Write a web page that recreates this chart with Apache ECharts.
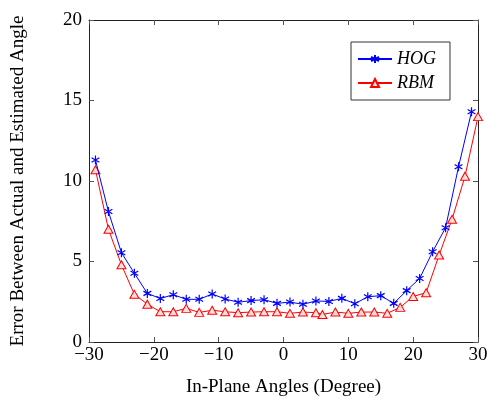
<!DOCTYPE html>
<html>
<head>
<meta charset="utf-8">
<script src="https://cdn.jsdelivr.net/npm/echarts@6/dist/echarts.min.js"></script>
<style>html,body{margin:0;padding:0;background:#fff}#c{width:490px;height:396px}</style>
</head>
<body>
<div id="c"></div>
<script>
var hogX = [-29,-27,-25,-23,-21,-19,-17,-15,-13,-11,-9,-7,-5,-3,-1,1,3,5,7,9,11,13,15,17,19,21,23,25,27,29];
var hogY = [11.3,8.1,5.55,4.27,3.02,2.70,2.94,2.65,2.65,2.98,2.67,2.47,2.57,2.63,2.40,2.48,2.34,2.55,2.52,2.71,2.38,2.81,2.88,2.40,3.19,3.95,5.61,7.1,10.89,14.3];
var rbmX = [-29,-27,-25,-23,-21,-19,-17,-15,-13,-11,-9,-7,-5,-3,-1,1,3,5,6,8,10,12,14,16,18,20,22,24,26,28,30];
var rbmY = [10.7,7.0,4.8,2.96,2.35,1.88,1.88,2.09,1.84,1.97,1.88,1.82,1.86,1.88,1.88,1.78,1.86,1.82,1.71,1.86,1.78,1.86,1.86,1.78,2.15,2.83,3.06,5.4,7.62,10.3,14.0];
var seriesNames = ['HOG', 'RBM'];
var xTicks = [-30, -20, -10, 0, 10, 20, 30];
var yTicks = [0, 5, 10, 15, 20];

function pairs(xs, ys) { return xs.map(function (x, i) { return [x, ys[i]]; }); }

var FONT = 'Liberation Serif';
var axisLineStyle = { color: '#222', width: 1 };
var tick = { show: true, inside: true, length: 5, lineStyle: { color: '#555', width: 1 } };

var chart = echarts.init(document.getElementById('c'), null, { renderer: 'canvas' });
chart.setOption({
  animation: false,
  backgroundColor: '#fff',
  grid: { left: 89, right: 12, top: 20, bottom: 54, containLabel: false, outerBoundsMode: 'none' },
  legend: {
    orient: 'vertical',
    left: 351, top: 42,
    data: seriesNames,
    itemWidth: 34, itemHeight: 10, itemGap: 6,
    padding: [8, 14, 8, 6],
    borderColor: '#333', borderWidth: 1, borderRadius: 0,
    backgroundColor: '#fff',
    textStyle: { fontFamily: FONT, fontStyle: 'italic', fontSize: 18, color: '#000' }
  },
  xAxis: [{
    type: 'value', min: xTicks[0], max: xTicks[xTicks.length - 1], interval: 10,
    position: 'bottom',
    name: 'In-Plane Angles (Degree)', nameLocation: 'middle', nameGap: 36,
    nameTextStyle: { fontFamily: FONT, fontSize: 19, color: '#000' },
    axisLine: { show: true, onZero: false, lineStyle: axisLineStyle },
    axisTick: tick,
    splitLine: { show: false },
    axisLabel: { fontFamily: FONT, fontSize: 19, color: '#000', margin: 4,
      formatter: function (v) { return String(v).replace('-', '\u2212'); } }
  }, {
    type: 'value', min: xTicks[0], max: xTicks[xTicks.length - 1], interval: 10,
    position: 'top',
    axisLine: { show: true, onZero: false, lineStyle: axisLineStyle },
    axisTick: tick, axisLabel: { show: false }, splitLine: { show: false }
  }],
  yAxis: [{
    type: 'value', min: yTicks[0], max: yTicks[yTicks.length - 1], interval: 5,
    position: 'left',
    name: 'Error Between Actual and Estimated Angle', nameLocation: 'middle', nameGap: 61,
    nameTextStyle: { fontFamily: FONT, fontSize: 19, color: '#000' },
    axisLine: { show: true, onZero: false, lineStyle: axisLineStyle },
    axisTick: tick,
    splitLine: { show: false },
    axisLabel: { fontFamily: FONT, fontSize: 19, color: '#000', margin: 7 }
  }, {
    type: 'value', min: yTicks[0], max: yTicks[yTicks.length - 1], interval: 5,
    position: 'right',
    axisLine: { show: true, onZero: false, lineStyle: axisLineStyle },
    axisTick: tick, axisLabel: { show: false }, splitLine: { show: false }
  }],
  series: [{
    name: seriesNames[0], type: 'line', xAxisIndex: 0, yAxisIndex: 0,
    data: pairs(hogX, hogY),
    symbol: 'path://M0,-5L0,5M-4.33,-2.5L4.33,2.5M-4.33,2.5L4.33,-2.5',
    symbolSize: 9, symbolKeepAspect: true,
    lineStyle: { color: '#0000ff', width: 1 },
    itemStyle: { color: '#0000ff', borderColor: '#0000ff', borderWidth: 1.2 },
    z: 3
  }, {
    name: seriesNames[1], type: 'line', xAxisIndex: 0, yAxisIndex: 0,
    data: pairs(rbmX, rbmY),
    symbol: 'triangle', symbolSize: [9, 8],
    lineStyle: { color: '#ff0000', width: 1 },
    itemStyle: { color: '#ffdede', borderColor: '#ff0000', borderWidth: 1 },
    z: 2
  }]
});
</script>
</body>
</html>
